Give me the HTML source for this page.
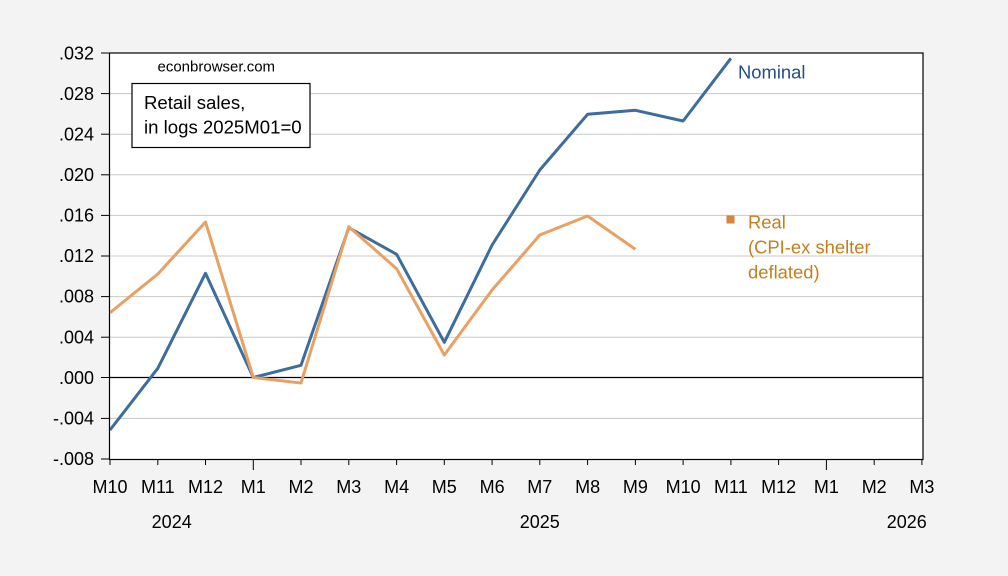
<!DOCTYPE html>
<html>
<head>
<meta charset="utf-8">
<style>
  html, body { margin:0; padding:0; background:#f3f3f3; }
  body { width:1008px; height:576px; overflow:hidden; }
  svg { display:block; font-family:"Liberation Sans", Arial, sans-serif; }
</style>
</head>
<body>
<svg width="1008" height="576" viewBox="0 0 1008 576" xmlns="http://www.w3.org/2000/svg">
  <rect x="0" y="0" width="1008" height="576" fill="#f3f3f3"/>
  <!-- plot area -->
  <rect x="109.5" y="53" width="813.5" height="406.5" fill="#ffffff"/>

  <!-- gridlines -->
  <g stroke="#c8c8c8" stroke-width="1">
    <line x1="110" y1="93.6" x2="923" y2="93.6"/>
    <line x1="110" y1="134.2" x2="923" y2="134.2"/>
    <line x1="110" y1="174.8" x2="923" y2="174.8"/>
    <line x1="110" y1="215.4" x2="923" y2="215.4"/>
    <line x1="110" y1="256" x2="923" y2="256"/>
    <line x1="110" y1="296.6" x2="923" y2="296.6"/>
    <line x1="110" y1="337.2" x2="923" y2="337.2"/>
    <line x1="110" y1="418.4" x2="923" y2="418.4"/>
  </g>
  <!-- zero line -->
  <line x1="110" y1="377.5" x2="923" y2="377.5" stroke="#000" stroke-width="1.2"/>

  <!-- series -->
  <polyline fill="none" stroke="#3d6c9e" stroke-width="3" stroke-linejoin="round"
    points="110,430 157.8,368.3 205.5,273.3 253.3,377.5 301,365.3 348.8,227.7 396.6,254.3 444.3,342.3 492.1,245 539.8,170 587.6,114.3 635.4,110.3 683.1,121 730.9,58.3"/>
  <polyline fill="none" stroke="#e9a063" stroke-width="3" stroke-linejoin="round"
    points="110,312.7 157.8,274 205.5,222 253.3,377.5 301,383 348.8,226.7 396.6,268.7 444.3,355 492.1,290 539.8,235 587.6,216 635.4,249.3"/>

  <!-- plot border -->
  <rect x="109.5" y="53" width="813.5" height="406.5" fill="none" stroke="#000" stroke-width="1.2"/>

  <!-- y ticks -->
  <g stroke="#000" stroke-width="1">
    <line x1="101" y1="53" x2="109.5" y2="53"/>
    <line x1="101" y1="93.6" x2="109.5" y2="93.6"/>
    <line x1="101" y1="134.2" x2="109.5" y2="134.2"/>
    <line x1="101" y1="174.8" x2="109.5" y2="174.8"/>
    <line x1="101" y1="215.4" x2="109.5" y2="215.4"/>
    <line x1="101" y1="256" x2="109.5" y2="256"/>
    <line x1="101" y1="296.6" x2="109.5" y2="296.6"/>
    <line x1="101" y1="337.2" x2="109.5" y2="337.2"/>
    <line x1="101" y1="377.5" x2="109.5" y2="377.5"/>
    <line x1="101" y1="418.4" x2="109.5" y2="418.4"/>
    <line x1="101" y1="459" x2="109.5" y2="459"/>
  </g>
  <g font-size="18" fill="#000" text-anchor="end">
    <text x="94" y="59.5">.032</text>
    <text x="94" y="100">.028</text>
    <text x="94" y="140.5">.024</text>
    <text x="94" y="181">.020</text>
    <text x="94" y="221.5">.016</text>
    <text x="94" y="262">.012</text>
    <text x="94" y="302.5">.008</text>
    <text x="94" y="343.5">.004</text>
    <text x="94" y="384">.000</text>
    <text x="94" y="424.5">-.004</text>
    <text x="94" y="465">-.008</text>
  </g>

  <!-- x ticks -->
  <g stroke="#000" stroke-width="1">
    <line x1="110" y1="459.5" x2="110" y2="465"/>
    <line x1="157.8" y1="459.5" x2="157.8" y2="465"/>
    <line x1="205.5" y1="459.5" x2="205.5" y2="465"/>
    <line x1="253.3" y1="459.5" x2="253.3" y2="470"/>
    <line x1="301" y1="459.5" x2="301" y2="465"/>
    <line x1="348.8" y1="459.5" x2="348.8" y2="465"/>
    <line x1="396.6" y1="459.5" x2="396.6" y2="465"/>
    <line x1="444.3" y1="459.5" x2="444.3" y2="465"/>
    <line x1="492.1" y1="459.5" x2="492.1" y2="465"/>
    <line x1="539.8" y1="459.5" x2="539.8" y2="465"/>
    <line x1="587.6" y1="459.5" x2="587.6" y2="465"/>
    <line x1="635.4" y1="459.5" x2="635.4" y2="465"/>
    <line x1="683.1" y1="459.5" x2="683.1" y2="465"/>
    <line x1="730.9" y1="459.5" x2="730.9" y2="465"/>
    <line x1="778.6" y1="459.5" x2="778.6" y2="465"/>
    <line x1="826.4" y1="459.5" x2="826.4" y2="470"/>
    <line x1="874.2" y1="459.5" x2="874.2" y2="465"/>
    <line x1="921.9" y1="459.5" x2="921.9" y2="465"/>
  </g>
  <g font-size="18" fill="#000" text-anchor="middle">
    <text x="110" y="493">M10</text>
    <text x="157.8" y="493">M11</text>
    <text x="205.5" y="493">M12</text>
    <text x="253.3" y="493">M1</text>
    <text x="301" y="493">M2</text>
    <text x="348.8" y="493">M3</text>
    <text x="396.6" y="493">M4</text>
    <text x="444.3" y="493">M5</text>
    <text x="492.1" y="493">M6</text>
    <text x="539.8" y="493">M7</text>
    <text x="587.6" y="493">M8</text>
    <text x="635.4" y="493">M9</text>
    <text x="683.1" y="493">M10</text>
    <text x="730.9" y="493">M11</text>
    <text x="778.6" y="493">M12</text>
    <text x="826.4" y="493">M1</text>
    <text x="874.2" y="493">M2</text>
    <text x="921.9" y="493">M3</text>
    <text x="171.7" y="528">2024</text>
    <text x="539.8" y="528">2025</text>
    <text x="906.8" y="528">2026</text>
  </g>

  <!-- annotations -->
  <text x="157.5" y="71.5" font-size="15" fill="#000">econbrowser.com</text>
  <rect x="132" y="83.5" width="178" height="64" fill="#fff" stroke="#000" stroke-width="1.2"/>
  <text x="144" y="109" font-size="18.6" fill="#000">Retail sales,</text>
  <text x="144" y="133.5" font-size="18.6" fill="#000">in logs 2025M01=0</text>

  <text x="738" y="78.3" font-size="18.4" fill="#1f4e89">Nominal</text>

  <rect x="726.5" y="215.5" width="8" height="8" fill="#d9843b"/>
  <g font-size="18.4" fill="#c47f1c">
    <text x="748" y="228.5">Real</text>
    <text x="748" y="253.5">(CPI-ex shelter</text>
    <text x="748" y="278.5">deflated)</text>
  </g>
</svg>
</body>
</html>
